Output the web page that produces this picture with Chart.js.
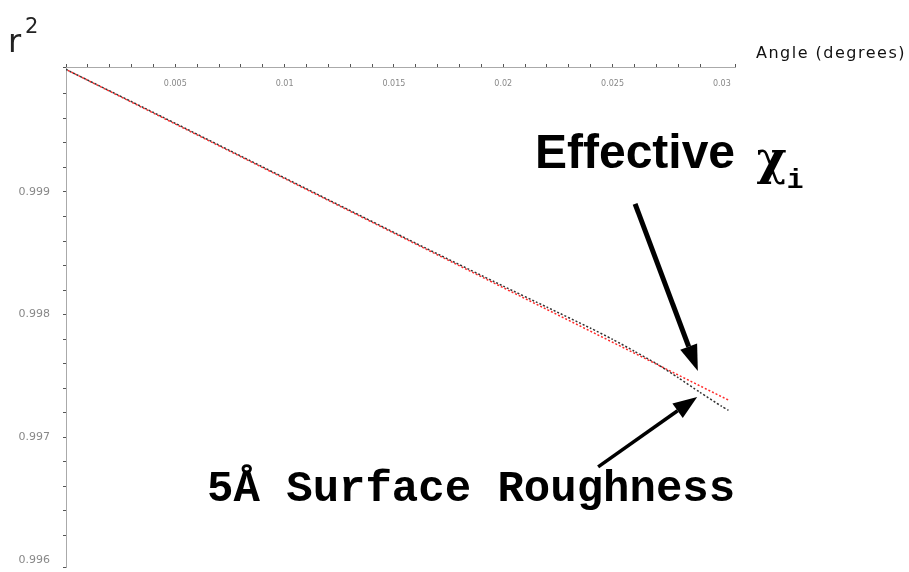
<!DOCTYPE html>
<html>
<head>
<meta charset="utf-8">
<script src="https://cdn.jsdelivr.net/npm/chart.js@4/dist/chart.umd.min.js"></script>
<style>
  html, body { margin: 0; padding: 0; background: #fff; }
  #c { display: block; }
</style>
</head>
<body>
<canvas id="c" width="909" height="572"></canvas>
<script>
// r^2 vs angle, two curves
const roughAngle = [0, 0.004, 0.008, 0.012, 0.016, 0.020, 0.022, 0.024, 0.025, 0.026, 0.027, 0.028, 0.029, 0.030, 0.0303];
const roughR2 = [1.0, 0.999649, 0.999293, 0.998937, 0.998582, 0.998232, 0.998060, 0.997888, 0.997798, 0.997700, 0.997600, 0.997485, 0.997365, 0.997250, 0.997218];
const effAngle = [0, 0.0303];
const effR2 = [1.0, 0.997302];

const xTickValues = [0.005, 0.01, 0.015, 0.02, 0.025, 0.03];
const xTickLabels = ['0.005', '0.01', '0.015', '0.02', '0.025', '0.03'];
const yTickValues = [0.999, 0.998, 0.997, 0.996];
const yTickLabels = ['0.999', '0.998', '0.997', '0.996'];

function toPoints(xs, ys){
    let pts = [];
    for (let i = 0; i < xs.length; i++) pts.push({x: xs[i], y: ys[i]});
    return pts;
}

function drawArrow(ctx, x1, y1, x2, y2, lw, headLen, headW){
    const a = Math.atan2(y2 - y1, x2 - x1);
    const bx = x2 - headLen * Math.cos(a), by = y2 - headLen * Math.sin(a);
    ctx.save();
    ctx.strokeStyle = '#000';
    ctx.fillStyle = '#000';
    ctx.lineWidth = lw;
    ctx.beginPath();
    ctx.moveTo(x1, y1);
    ctx.lineTo(bx, by);
    ctx.stroke();
    ctx.beginPath();
    ctx.moveTo(x2, y2);
    ctx.lineTo(bx + headW * Math.sin(a), by - headW * Math.cos(a));
    ctx.lineTo(bx - headW * Math.sin(a), by + headW * Math.cos(a));
    ctx.closePath();
    ctx.fill();
    ctx.restore();
}

const annotations = {
    id: 'annotations',
    afterDraw(chart){
        const ctx = chart.ctx;
        const xs = chart.scales.x, ys = chart.scales.y;
        const px = v => xs.getPixelForValue(v);
        const py = v => ys.getPixelForValue(v);

        ctx.save();
        // x tick labels sit under the top axis line
        ctx.font = '8px "DejaVu Sans"';
        ctx.fillStyle = '#888';
        ctx.textAlign = 'center';
        ctx.textBaseline = 'middle';
        xTickValues.forEach((v, i) => ctx.fillText(xTickLabels[i], px(v), 84));

        // y tick labels left of the axis
        ctx.font = '11px "DejaVu Sans"';
        ctx.textAlign = 'right';
        yTickValues.forEach((v, i) => ctx.fillText(yTickLabels[i], 50, py(v)));

        // r^2
        ctx.fillStyle = '#222';
        ctx.textAlign = 'left';
        ctx.textBaseline = 'alphabetic';
        ctx.font = '32px "DejaVu Sans"';
        ctx.fillText('r', 8, 52);
        ctx.font = '21px "DejaVu Sans"';
        ctx.fillText('2', 25, 33);

        // axis title
        ctx.fillStyle = '#111';
        ctx.font = '16px "DejaVu Sans"';
        ctx.letterSpacing = '1.5px';
        ctx.textAlign = 'right';
        ctx.fillText('Angle (degrees)', 906, 58);
        ctx.letterSpacing = '0px';

        // Effective chi_i
        ctx.textAlign = 'left';
        ctx.fillStyle = '#000';
        ctx.font = 'bold 48px "Liberation Sans", Arial, sans-serif';
        const ex = px(0.02145), ey = py(0.999199);
        ctx.fillText('Effective ', ex, ey);
        let w = ctx.measureText('Effective ').width + 8;
        ctx.font = 'bold 46px "DejaVu Serif", serif';
        ctx.fillText('\u03c7', ex + w, ey + 6);
        w += ctx.measureText('\u03c7').width;
        ctx.font = 'bold 28px "Liberation Mono", monospace';
        ctx.fillText('i', ex + w, ey + 20);

        // 5A surface roughness
        ctx.font = 'bold 44px "Liberation Mono", "Courier New", monospace';
        ctx.fillText('5\u00c5 Surface Roughness', px(0.00645), py(0.99648));
        ctx.restore();

        drawArrow(ctx, px(0.02603), py(0.998903), px(0.02890), py(0.997540), 5, 26, 9);
        drawArrow(ctx, px(0.02434), py(0.996757), px(0.02887), py(0.997328), 3.5, 24, 9);
    }
};

new Chart(document.getElementById('c'), {
    type: 'line',
    data: {
        datasets: [{
            label: '5A Surface Roughness',
            data: toPoints(roughAngle, roughR2),
            borderColor: '#333',
            borderWidth: 1.5,
            borderDash: [2, 2],
            pointRadius: 0,
            tension: 0.2
        },{
            label: 'Effective',
            data: toPoints(effAngle, effR2),
            borderColor: '#ff2a2a',
            borderWidth: 1.5,
            borderDash: [2, 2],
            borderDashOffset: 2,
            pointRadius: 0
        }]
    },
    plugins: [annotations],
    options: {
        responsive: false,
        animation: false,
        layout: { padding: { top: 0, right: 174, bottom: 5, left: 0 } },
        plugins: { legend: { display: false }, tooltip: { enabled: false } },
        scales: {
            x: {
                type: 'linear',
                position: 'top',
                min: 0,
                max: 0.0306,
                afterFit: s => { s.height = 67; },
                border: { color: '#aaa', width: 1 },
                grid: { drawOnChartArea: false, tickLength: 3, color: '#555' },
                ticks: { display: false, stepSize: 0.001 }
            },
            y: {
                min: 0.99594,
                max: 1.00002,
                afterFit: s => { s.width = 66; s.paddingTop = 0; s.paddingBottom = 0; },
                border: { color: '#aaa', width: 1 },
                grid: { drawOnChartArea: false, tickLength: 3, color: '#555' },
                ticks: { display: false, stepSize: 0.0002 }
            }
        }
    }
});
</script>
</body>
</html>
